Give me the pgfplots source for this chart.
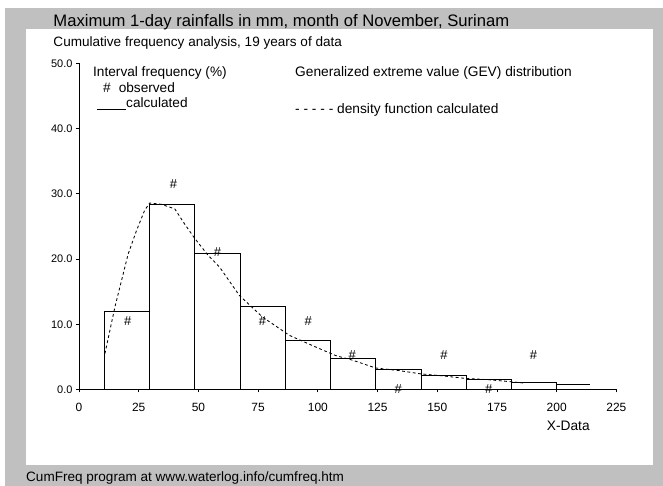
\documentclass[border=0pt]{standalone}
\usepackage{pgfplots}
\pgfplotsset{compat=1.18}
\usepackage{fontspec}
\setmainfont{Liberation Sans}
\definecolor{bggrey}{HTML}{C0C0C0}
\newcommand{\fs}[1]{\fontsize{#1}{#1}\selectfont}
\begin{document}
\begin{tikzpicture}[x=1bp,y=1bp]
% page and panels
\useasboundingbox (0,0) rectangle (663,486);
\fill[bggrey] (5,0) rectangle (663,478);
\fill[white] (26,21) rectangle (653.3,456.7);
% titles
\node[anchor=base west, inner sep=0pt] at (53.3,459.3) {\fs{16.7}Maximum 1-day rainfalls in mm, month of November, Surinam};
\node[anchor=base west, inner sep=0pt] at (53.3,439.8) {\fs{13.6}Cumulative frequency analysis, 19 years of data};
\node[anchor=base west, inner sep=0pt] at (26,4.5) {\fs{13.6}CumFreq program at www.waterlog.info/cumfreq.htm};
% legend texts
\node[anchor=base west, inner sep=0pt] at (93,409) {\fs{13.7}Interval frequency (\%)};
\node[anchor=base west, inner sep=0pt] at (103,393) {\fs{13.7}\#\hspace{8bp}observed};
\node[anchor=base west, inner sep=0pt] at (97,378) {\fs{13.7}\rule[-1.5bp]{29bp}{0.8bp}calculated};
\node[anchor=base west, inner sep=0pt] at (295,409) {\fs{13.8}Generalized extreme value (GEV) distribution};
\node[anchor=base west, inner sep=0pt] at (295,372) {\fs{13.8}- - - - - density function calculated};
\node[anchor=base west, inner sep=0pt] at (546.7,55) {\fs{13.8}X-Data};
\begin{axis}[
  at={(79bp,96.5bp)}, anchor=south west,
  scale only axis, width=537.4bp, height=326bp,
  xmin=0, xmax=225, ymin=0, ymax=50,
  axis x line*=bottom, axis y line*=left,
  axis line style={black, line width=0.8bp},
  xtick={0,25,...,225}, ytick={0,10,...,50},
  tick align=outside, major tick length=3bp,
  tick style={black, line width=0.8bp},
  /pgf/number format/assume math mode=true,
  x tick label style={font=\fs{12}, yshift=-7bp},
  y tick label style={font=\fs{11}, /pgf/number format/fixed, /pgf/number format/fixed zerofill, /pgf/number format/precision=1},
  clip=false,
]
% calculated interval frequencies (bars)
\addplot[ybar interval, draw=black, fill=none, line width=0.8bp] coordinates {
 (10.6,12.0) (29.54,28.4) (48.48,20.8) (67.42,12.7) (86.36,7.6) (105.3,4.8)
 (124.24,3.1) (143.18,2.15) (162.12,1.6) (181.06,1.1) (200.0,1.1)
};
\addplot[black, line width=0.8bp] coordinates {(200.0,0.8) (213.9,0.8)};
% density function
\addplot[black, line width=0.85bp, dash pattern=on 2.8bp off 2.6bp] coordinates {
 (10.85,5.5) (12.9,9.0) (15.0,12.6) (17.8,16.7) (20.6,20.8) (24.1,24.4) (27.5,27.5)
 (29.6,28.6) (34.5,28.4) (40.1,27.7) (44.2,25.4) (48.4,23.2) (54.0,20.6) (58.8,18.8)
 (67.2,14.4) (76.9,11.1) (88.1,8.3) (99.2,6.5) (107.5,5.2) (114.5,4.5) (124.2,3.3)
 (134,2.9) (143,2.4) (152,2.1) (161.8,1.7) (171.5,1.5) (180.6,1.2) (186,1.0)
};
% observed frequencies
\addplot[only marks, mark=text, text mark={\fs{13}\#}] coordinates {
 (20.4,10.53) (39.6,31.58) (58.0,21.05) (76.8,10.53) (96.0,10.53) (114.4,5.26)
 (133.6,0) (152.8,5.26) (171.5,0) (190.3,5.26)
};
\end{axis}
\end{tikzpicture}
\end{document}
